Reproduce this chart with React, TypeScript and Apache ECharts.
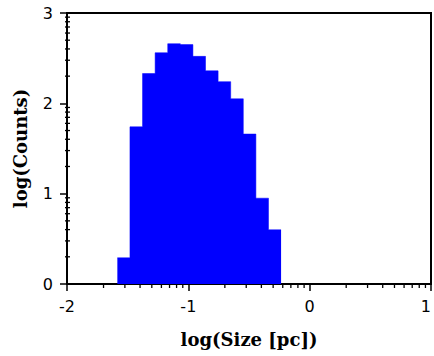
import React, { useEffect, useRef } from "react";
import * as echarts from "echarts";

// Histogram of log(Counts) per log(Size) bin
const binStart = -1.585;
const binWidth = 0.1038;
const logCounts = [0.29, 1.74, 2.33, 2.56, 2.66, 2.65, 2.52, 2.36, 2.24, 2.05, 1.66, 0.95, 0.6];

// Axis ranges and major tick labels
const xTicks = [-2, -1, 0, 1];
const yTicks = [0, 1, 2, 3];
// Logarithmic minor tick offsets within each decade
const minorMultipliers = [2, 3, 4, 5, 6, 7, 8, 9];

export default function App() {
  const ref = useRef<HTMLDivElement>(null);

  useEffect(() => {
    if (!ref.current) return;
    const chart = echarts.init(ref.current, undefined, { renderer: "svg" });

    // Step outline: each bin's left edge with its value, closed by the last right edge
    const steps = logCounts.map((v, i) => [binStart + i * binWidth, v]);
    steps.push([binStart + logCounts.length * binWidth, logCounts[logCounts.length - 1]]);

    const xMinor: number[] = [];
    for (let d = xTicks[0]; d < xTicks[xTicks.length - 1]; d++) {
      minorMultipliers.forEach((m) => xMinor.push(d + Math.log10(m)));
    }
    const yMinor: number[] = [];
    for (let d = yTicks[0]; d < yTicks[yTicks.length - 1]; d++) {
      minorMultipliers.forEach((m) => yMinor.push(d + Math.log10(m)));
    }

    const tickStyle = { stroke: "#000", lineWidth: 1.3 };
    const labelFont = { fontFamily: "DejaVu Sans", fontSize: 16, color: "#000" };
    const nameFont = { fontFamily: "DejaVu Serif", fontWeight: "bold" as const, fontSize: 18, color: "#000" };

    chart.setOption({
      animation: false,
      grid: {
        left: 67,
        right: 3,
        top: 13,
        bottom: 72,
        containLabel: false,
        outerBoundsMode: "none",
        show: true,
        borderColor: "#000",
        borderWidth: 2,
      },
      xAxis: {
        type: "value",
        min: xTicks[0],
        max: xTicks[xTicks.length - 1],
        interval: 1,
        splitLine: { show: false },
        axisLine: { onZero: false, lineStyle: { color: "#000", width: 2 } },
        axisTick: { length: 7, lineStyle: { color: "#000", width: 1.5 } },
        axisLabel: { ...labelFont, margin: 14, alignMaxLabel: "right" },
        name: "log(Size [pc])",
        nameLocation: "middle",
        nameGap: 46,
        nameTextStyle: nameFont,
      },
      yAxis: {
        type: "value",
        min: yTicks[0],
        max: yTicks[yTicks.length - 1],
        interval: 1,
        splitLine: { show: false },
        axisLine: { onZero: false, lineStyle: { color: "#000", width: 2 } },
        axisTick: { length: 7, lineStyle: { color: "#000", width: 1.5 } },
        axisLabel: { ...labelFont, margin: 14 },
        name: "log(Counts)",
        nameLocation: "middle",
        nameGap: 38,
        nameTextStyle: nameFont,
      },
      series: [
        {
          type: "line",
          data: steps,
          step: "end",
          symbol: "none",
          silent: true,
          lineStyle: { color: "#0000ff", width: 0.5 },
          areaStyle: { color: "#0000ff", opacity: 1, origin: "start" },
        },
        {
          type: "custom",
          data: xMinor.map((v) => [v]),
          clip: false,
          silent: true,
          renderItem: (params: any, api: any) => {
            const p = api.coord([api.value(0), 0]);
            return {
              type: "line",
              shape: { x1: p[0], y1: p[1], x2: p[0], y2: p[1] + 4 },
              style: tickStyle,
            };
          },
        },
        {
          type: "custom",
          data: yMinor.map((v) => [xTicks[0], v]),
          clip: false,
          silent: true,
          renderItem: (params: any, api: any) => {
            const p = api.coord([api.value(0), api.value(1)]);
            return {
              type: "line",
              shape: { x1: p[0] - 2, y1: p[1], x2: p[0] + 3, y2: p[1] },
              style: tickStyle,
            };
          },
        },
      ],
    });

    return () => chart.dispose();
  }, []);

  return <div ref={ref} style={{ position: "absolute", left: 0, top: 0, width: 434, height: 356 }} />;
}
